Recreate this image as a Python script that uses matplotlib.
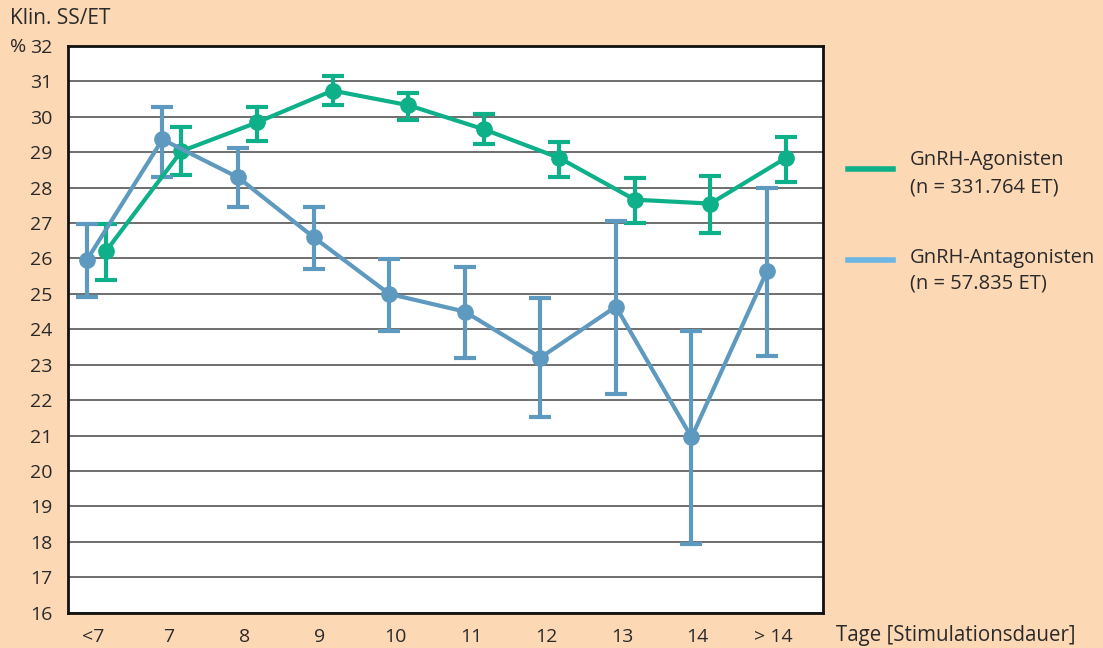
import matplotlib.pyplot as plt
import numpy as np

plt.rcParams['font.family'] = ['Open Sans', 'DejaVu Sans']

# Stimulationsdauer in Tagen
tage = ['<7', '7', '8', '9', '10', '11', '12', '13', '14', '> 14']

# GnRH-Agonisten: Mittelwert, untere und obere Fehlergrenze (%)
agon = [26.2, 29.03, 29.84, 30.74, 30.33, 29.65, 28.84, 27.66, 27.55, 28.84]
agon_lo = [25.39, 28.35, 29.33, 30.33, 29.9, 29.22, 28.3, 27.0, 26.73, 28.16]
agon_hi = [26.98, 29.71, 30.28, 31.14, 30.67, 30.08, 29.28, 28.28, 28.34, 29.44]

# GnRH-Antagonisten
antag = [25.96, 29.36, 28.29, 26.6, 25.0, 24.5, 23.2, 24.64, 20.95, 25.65]
antag_lo = [24.9, 28.31, 27.44, 25.69, 23.95, 23.19, 21.51, 22.16, 17.93, 23.25]
antag_hi = [26.98, 30.27, 29.12, 27.45, 25.98, 25.75, 24.87, 27.06, 23.96, 28.0]

bg = '#fdd8b5'
green = '#0db088'
blue = '#5e9abf'
blue_leg = '#6db6e3'
txt = '#2a2a2a'

fig = plt.figure(figsize=(11.03, 6.48), dpi=100, facecolor=bg)
ax = fig.add_axes([68 / 1103, (648 - 612.6) / 648, 755 / 1103, 566.6 / 648])
ax.set_facecolor('white')

x = np.arange(len(tage))


def draw(xs, y, lo, hi, color):
    y = np.array(y)
    err = [y - np.array(lo), np.array(hi) - y]
    ax.errorbar(xs, y, yerr=err, color=color, lw=3, marker='o', ms=11,
                elinewidth=3, capsize=8, capthick=3, zorder=3)


draw(x + 0.17, agon, agon_lo, agon_hi, green)
draw(x - 0.08, antag, antag_lo, antag_hi, blue)

ax.set_xlim(-0.33, 9.66)
ax.set_ylim(16, 32)
ax.set_yticks(range(16, 33))
ax.set_xticks(x)
ax.set_xticklabels(tage)
ax.tick_params(length=0, labelsize=14, colors=txt)
ax.tick_params(axis='y', pad=11)
ax.tick_params(axis='x', pad=11)
ax.grid(axis='y', color='#555555', lw=1.2, zorder=1)
for s in ax.spines.values():
    s.set_linewidth(2)
    s.set_color('#111111')

fig.text(10 / 1103, 1 - 18 / 648, 'Klin. SS/ET', fontsize=15, color=txt, va='center')
fig.text(10 / 1103, 1 - 47 / 648, '%', fontsize=14, color=txt, va='center')
fig.text(836 / 1103, 1 - 636 / 648, 'Tage [Stimulationsdauer]', fontsize=14.8,
         color=txt, va='center')

# Legende: Linie, Name, Fallzahl (y-Positionen in Pixeln von oben)
for yl, y1, y2, col, lab, n in [(169, 160, 187, green, 'GnRH-Agonisten', '(n = 331.764 ET)'),
                                (260, 258, 284, blue_leg, 'GnRH-Antagonisten', '(n = 57.835 ET)')]:
    fig.add_artist(plt.Line2D([848 / 1103, 893 / 1103], [1 - yl / 648] * 2,
                              color=col, lw=4, transform=fig.transFigure))
    fig.text(910 / 1103, 1 - y1 / 648, lab, fontsize=14.5, color=txt, va='center')
    fig.text(910 / 1103, 1 - y2 / 648, n, fontsize=14.5, color=txt, va='center')

fig.savefig('out.png', dpi=100, facecolor=bg)
